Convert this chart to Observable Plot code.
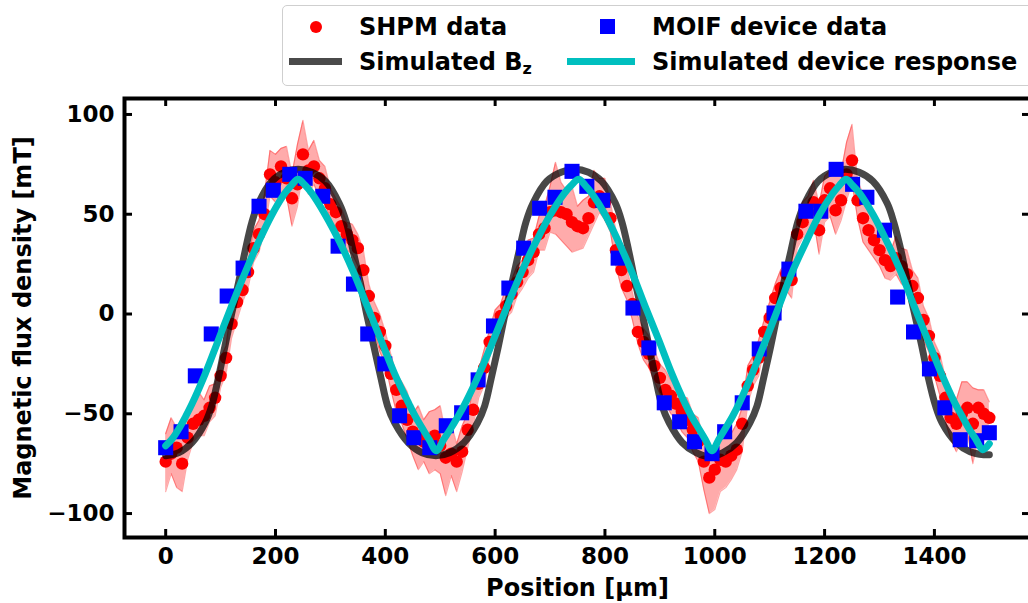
<!DOCTYPE html>
<html>
<head>
<meta charset="utf-8">
<script src="https://cdn.jsdelivr.net/npm/d3@7"></script>
<script src="https://cdn.jsdelivr.net/npm/@observablehq/plot@0.6"></script>
<style>
  html, body { margin: 0; padding: 0; background: #fff; }
  #wrap { position: relative; width: 1028px; height: 603px; overflow: hidden; font-family: "DejaVu Sans", sans-serif; font-weight: bold; }
  #chart { position: absolute; left: 0; top: 0; }
  .lg { position: absolute; }
  .lt { position: absolute; font-size: 24px; line-height: 30px; color: #000; white-space: nowrap; }
  .lt sub { font-size: 16px; vertical-align: -4px; line-height: 0; }
</style>
</head>
<body>
<div id="wrap">
  <div id="chart"></div>
  <div class="lg" style="left:282px;top:5px;width:780px;height:79px;border:1px solid #cfcfcf;border-radius:5px;background:rgba(255,255,255,0.85);"></div>
  <div class="lg" style="left:310px;top:21px;width:12px;height:12px;border-radius:50%;background:#ff0000;"></div>
  <div class="lt" style="left:359px;top:12px;">SHPM data</div>
  <div class="lg" style="left:600px;top:19px;width:15px;height:15px;background:#0000ff;"></div>
  <div class="lt" style="left:652px;top:12px;">MOIF device data</div>
  <div class="lg" style="left:289px;top:58px;width:53px;height:7px;background:#4a4a4a;"></div>
  <div class="lt" style="left:359px;top:47px;">Simulated B<sub>z</sub></div>
  <div class="lg" style="left:567px;top:58px;width:68px;height:7px;background:#00bfbf;"></div>
  <div class="lt" style="left:652px;top:47px;">Simulated device response</div>
</div>
<script>
// ---- Tick values ----
const xTicks = [0, 200, 400, 600, 800, 1000, 1200, 1400];
const yTicks = [-100, -50, 0, 50, 100];

// ---- SHPM data (red dots) with error band offsets ----
const shpmX = [0,10,20,30,40,50,60,70,80,90,100,110,120,130,140,150,160,170,180,190,200,210,220,230,240,250,260,270,280,290,300,310,320,330,340,350,360,370,380,390,400,410,420,430,440,450,460,470,480,490,500,510,520,530,540,550,560,570,580,590,600,610,620,630,640,650,660,670,680,690,700,710,720,730,740,750,760,770,780,790,800,810,820,830,840,850,860,870,880,890,900,910,920,930,940,950,960,970,980,990,1000,1010,1020,1030,1040,1050,1060,1070,1080,1090,1100,1110,1120,1130,1140,1150,1160,1170,1180,1190,1200,1210,1220,1230,1240,1250,1260,1270,1280,1290,1300,1310,1320,1330,1340,1350,1360,1370,1380,1390,1400,1410,1420,1430,1440,1450,1460,1470,1480,1490,1500];
const shpmY = [-74,-70,-67,-75,-62,-55,-53,-51,-47,-42,-31,-22,-5,6,12,21,33,40,50,70,66,74,68,58,65,80,72,74,68,63,55,51,44,40,37,33,22,9,-2,-9,-16,-30,-38,-46,-53,-59,-62,-64,-67,-61,-66,-72,-70,-74,-69,-58,-48,-35,-27,-14,-6,-1,4,10,16,21,27,31,40,43,51,52,51,50,46,44,43,48,56,59,56,48,32,22,14,5,-9,-14,-20,-26,-32,-38,-41,-45,-49,-53,-58,-64,-74,-82,-78,-73,-74,-71,-68,-55,-36,-28,-22,-9,-2,8,13,20,17,40,46,51,56,42,57,63,52,57,70,77,57,48,42,37,32,27,24,28,24,20,14,8,-3,-11,-22,-31,-42,-52,-55,-50,-47,-55,-47,-50,-52];
const shpmErrUp = [14,18,10,22,12,9,14,8,11,7, 9,6,10,7,8,6,9,7,10,12, 14,9,16,12,20,17,10,13,9,11, 8,7,9,6,8,7,10,6,8,9, 7,10,8,12,14,9,16,11,18,13, 20,12,15,9,13,8,10,7,9,6, 8,6,9,7,8,6,10,7,9,11, 13,24,15,12,18,10,14,11,16,9, 12,8,10,7,9,6,8,7,9,8, 7,10,8,9,7,11,8,12,10,14, 12,9,15,11,13,8,10,7,9,6, 8,7,9,6,8,7,10,8,11,13, 12,9,18,14,16,18,10,12,9,11, 8,10,7,11,9,12,8,10,7,9, 8,11,10,14,12,16,13,18,9,12,8];
const shpmErrDown = [15,10,20,14,11,9,8,10,7,9, 6,8,7,9,6,8,7,9,8,11, 10,13,9,14,11,8,12,9,10,8, 7,9,6,8,7,9,6,8,7,10, 9,8,11,9,10,12,16,10,13,17, 14,19,11,15,10,9,8,7,9,8, 7,8,6,9,7,8,9,10,8,11, 10,12,14,16,15,12,10,9,11,8, 9,7,8,9,7,8,6,9,7,8, 8,7,9,8,10,9,11,10,14,18, 20,16,13,12,10,14,9,8,9,7, 8,9,7,8,9,7,8,10,9,12, 11,14,12,10,13,11,9,12,10,9, 8,9,7,8,9,7,8,9,10,8, 9,10,12,11,14,13,12,20,15,11,9];

// ---- MOIF device data (blue squares) ----
const moifX = [0,28,54,83,112,141,170,196,226,254,286,314,342,368,399,426,452,481,511,539,569,597,625,652,681,709,740,767,796,824,851,880,908,936,963,995,1018,1050,1081,1108,1135,1166,1193,1221,1251,1277,1309,1333,1362,1391,1419,1447,1477,1500];
const moifY = [-67,-59,-31,-10,9,23,54,62,70,68,59,34,15,-10,-25,-51,-62,-67,-56,-49.5,-33,-6,13,33,53,58.5,71.5,64,57,28,3,-17,-44.5,-54,-64,-70,-59,-44.5,-17.5,0.5,22.5,51.5,51.5,72.5,65,58.5,42,8.5,-9,-27.5,-47,-63,-63.5,-59.5];

// ---- Simulated Bz (dark line) ----
const bzX = [0,24,48,72,84,96,108,120,133,145,157,169,193,217,241,266,291,316,329,341,354,366,379,392,404,417,442,467,492,517,543,568,581,593,606,618,631,644,656,669,694,720,745,770,794,819,831,843,855,868,880,892,904,917,941,966,990,1015,1040,1064,1077,1089,1102,1114,1126,1139,1151,1164,1188,1213,1238,1263,1288,1314,1326,1339,1351,1364,1377,1389,1402,1414,1440,1465,1490,1500];
const bzY = [-71,-69.5,-64.5,-54.5,-46,-32,-16,0,16,32,46,55.5,66.5,71,72.5,
  71,66.5,55.5,46,32,16,0,-16,-32,-46,-54.5,-64.5,-69.5,-71,
  -69.5,-64.5,-54.5,-46,-32,-16,0,16,32,46,55.5,66.5,71,72.5,
  71,66.5,55.5,46,32,16,0,-16,-32,-46,-54.5,-64.5,-69.5,-71.5,
  -69.5,-64.5,-54.5,-46,-32,-16,0,16,32,46,55.5,66.5,71,72.5,
  71,66.5,55.5,46,32,16,0,-16,-32,-46,-54.5,-64.5,-69,-70.5,
  -70.5];

// ---- Simulated device response (cyan line) ----
const devX = [0,12,24,36,48,72,96,120,145,169,193,217,229,241,254,266,291,317,342,367,392,417,443,455,468,480,493,506,519,532,545,571,597,622,648,674,700,726,739,752,764,776,801,825,849,873,898,922,946,958,971,983,995,1007,1019,1032,1044,1068,1093,1117,1141,1166,1190,1215,1227,1239,1251,1264,1289,1314,1339,1363,1388,1413,1438,1451,1463,1476,1488,1500];
const devY = [-66,-62.5,-57.5,-51.5,-45,-30,-13,4,21,36,49.5,60.5,64.5,67.5,
  64.5,60.5,49.5,36,21,4,-13,-30,-45,-51.5,-57.5,-63,-68.5,
  -63,-57.5,-51.5,-45,-30,-13,4,21,36,49.5,60.5,64.5,67.5,
  64.5,60.5,49.5,36,21,4,-13,-30,-45,-51.5,-57.5,-63,-68.5,
  -63,-57.5,-51.5,-45,-30,-13,4,21,36,49.5,60.5,64.5,67.5,
  64.5,60.5,49.5,36,21,4,-13,-30,-45,-51.5,-57.5,-63,-68,
  -65];

// ---- Build tables ----
const shpm = shpmX.map((x, i) => ({x, y: shpmY[i], lo: shpmY[i] - shpmErrDown[i], hi: shpmY[i] + shpmErrUp[i]}));
const moif = moifX.map((x, i) => ({x, y: moifY[i]}));
const bz = bzX.map((x, i) => ({x, y: bzY[i]}));
const dev = devX.map((x, i) => ({x, y: devY[i]}));

const fmt = d => d < 0 ? "\u2212" + Math.abs(d) : String(d);
const W = 1028, H = 603, mL = 124, mR = -2, mT = 98, mB = 66;
const plotW = W - mL - mR, plotH = H - mT - mB;
const tickLen = 8;

const chart = Plot.plot({
  width: W, height: H,
  marginLeft: mL, marginRight: mR, marginTop: mT, marginBottom: mB,
  style: {fontFamily: "DejaVu Sans", fontWeight: "bold", fontSize: "23px", color: "#000", background: "transparent", overflow: "visible"},
  x: {domain: [-75, 1575]},
  y: {domain: [-112, 108]},
  marks: [
    Plot.areaY(shpm, {x: "x", y1: "lo", y2: "hi", fill: "#ff0000", fillOpacity: 0.33}),
    Plot.line(shpm, {x: "x", y: "lo", stroke: "#ff0000", strokeOpacity: 0.35, strokeWidth: 1.2}),
    Plot.line(shpm, {x: "x", y: "hi", stroke: "#ff0000", strokeOpacity: 0.35, strokeWidth: 1.2}),
    Plot.dot(shpm, {x: "x", y: "y", r: 6.2, fill: "#ff0000"}),
    Plot.line(bz, {x: "x", y: "y", stroke: "#000", strokeOpacity: 0.72, strokeWidth: 7, curve: "catmull-rom"}),
    Plot.dot(moif, {x: "x", y: "y", symbol: "square", r: 8.5, fill: "#0000ff"}),
    Plot.line(dev, {x: "x", y: "y", stroke: "#00bfbf", strokeWidth: 7, curve: "catmull-rom"}),
    // inward ticks on all four sides
    Plot.tickX(xTicks, {x: d => d, insetTop: plotH - tickLen, stroke: "#000", strokeWidth: 3}),
    Plot.tickX(xTicks, {x: d => d, insetBottom: plotH - tickLen, stroke: "#000", strokeWidth: 3}),
    Plot.tickY(yTicks, {y: d => d, insetRight: plotW - tickLen, stroke: "#000", strokeWidth: 3}),
    Plot.tickY(yTicks, {y: d => d, insetLeft: plotW - tickLen, stroke: "#000", strokeWidth: 3}),
    Plot.frame({stroke: "#000", strokeWidth: 4}),
    Plot.axisX(xTicks, {anchor: "bottom", tickSize: 0, tickPadding: 10, tickFormat: fmt, label: null, fontSize: 23}),
    Plot.axisY(yTicks, {anchor: "left", tickSize: 0, tickPadding: 10, tickFormat: fmt, label: null, fontSize: 23}),
    Plot.text(["Position [µm]"], {text: d => d, frameAnchor: "bottom", dy: 51, textAnchor: "middle", lineAnchor: "middle", fontSize: 24, fontWeight: "bold"}),
    Plot.text(["Magnetic flux density [mT]"], {text: d => d, frameAnchor: "left", dx: -101, rotate: -90, textAnchor: "middle", lineAnchor: "middle", fontSize: 24, fontWeight: "bold"})
  ]
});
document.getElementById("chart").appendChild(chart);
</script>
</body>
</html>
